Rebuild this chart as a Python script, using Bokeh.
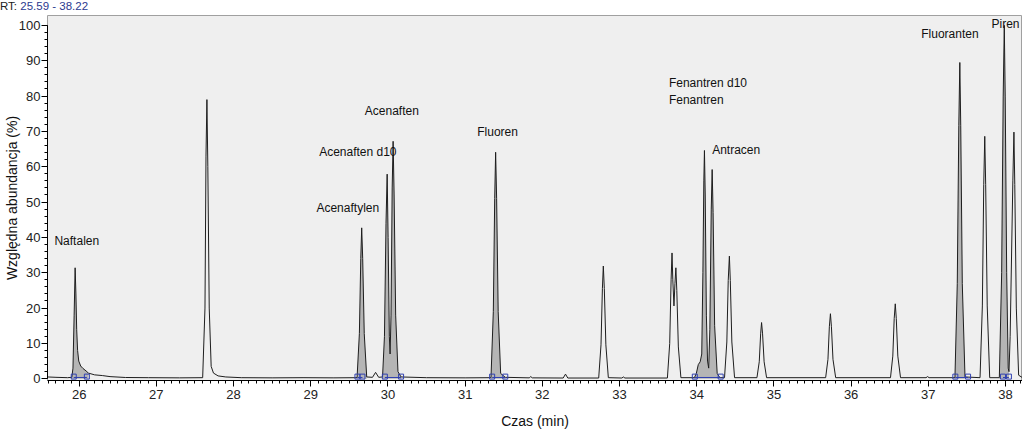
import numpy as np
from bokeh.plotting import figure
from bokeh.models import Range1d, SingleIntervalTicker, ColumnDataSource, Div
from bokeh.layouts import column
from bokeh.embed import file_html
from bokeh.resources import INLINE
from bokeh.core.properties import value

# ---------------- data ----------------
trace_time = [
    25.59, 25.70, 25.85, 25.905, 25.92, 25.935, 25.948, 25.958, 25.968, 25.98, 25.995,
    26.02, 26.05, 26.09, 26.12, 26.2, 26.3, 26.4, 26.6, 26.9, 27.3, 27.6,
    27.63, 27.643, 27.655, 27.667, 27.685, 27.71, 27.74, 27.80, 27.9, 28.1, 28.5, 28.9, 29.3, 29.6,
    29.63, 29.648, 29.66, 29.673, 29.693, 29.725, 29.80, 29.84, 29.88, 29.93,
    29.955, 29.975, 29.99, 30.002, 30.018, 30.028, 30.04, 30.055, 30.067, 30.08, 30.10, 30.13, 30.17,
    30.5, 31.0, 31.335,
    31.365, 31.383, 31.395, 31.408, 31.428, 31.46, 31.52, 31.83, 31.85, 31.87, 32.27, 32.30, 32.33, 32.73,
    32.76, 32.778, 32.79, 32.803, 32.823, 32.855, 33.03, 33.05, 33.07, 33.62,
    33.65, 33.668, 33.68, 33.69, 33.705, 33.718, 33.73, 33.742, 33.762, 33.795, 33.97,
    33.995, 34.02, 34.045, 34.065, 34.08, 34.092, 34.10, 34.11, 34.125, 34.14, 34.155, 34.17, 34.188,
    34.2, 34.212, 34.232, 34.265, 34.3, 34.36,
    34.39, 34.408, 34.423, 34.435, 34.455, 34.49, 34.78,
    34.81, 34.828, 34.84, 34.853, 34.873, 34.905, 35.67,
    35.70, 35.718, 35.732, 35.745, 35.765, 35.8, 36.51,
    36.54, 36.558, 36.572, 36.585, 36.605, 36.64, 36.97, 36.99, 37.01, 37.345,
    37.375, 37.395, 37.408, 37.42, 37.44, 37.475, 37.67,
    37.70, 37.718, 37.731, 37.743, 37.763, 37.795, 37.92,
    37.95, 37.97, 37.984, 37.996, 38.015, 38.035, 38.045, 38.06, 38.095, 38.109, 38.12, 38.14, 38.17, 38.22,
]
trace_abund = [
    0.5, 0.4, 0.3, 0.4, 3.0, 18, 31.4, 24, 14, 8, 5,
    3.6, 2.9, 2.2, 1.6, 1.1, 0.9, 0.6, 0.35, 0.3, 0.25, 0.3,
    20, 63, 79, 60, 20, 3.5, 1.6, 0.8, 0.5, 0.3, 0.25, 0.3, 0.25, 0.3,
    12.8, 34, 42.7, 34, 12.8, 0.5, 0.4, 1.8, 0.4, 0.5,
    12, 44, 57.9, 40, 12, 7, 18, 54, 67.2, 52, 18, 2, 0.5,
    0.3, 0.25, 0.3,
    19, 51, 64.1, 51, 19, 1.5, 0.4, 0.25, 0.6, 0.25, 0.2, 1.3, 0.2, 0.2,
    9.6, 25.5, 31.9, 25.5, 9.6, 0.3, 0.2, 0.5, 0.2, 0.2,
    10, 28, 35.6, 28, 20.6, 27, 31.4, 25, 9, 0.3, 0.3,
    1.5, 4.0, 4.8, 7, 30, 56, 64.6, 52, 18, 5, 3, 14, 48,
    59.2, 47, 15, 1.5, 0.3, 0.3,
    10.4, 27.8, 34.7, 27.8, 10.4, 0.3, 0.3,
    4.8, 12.7, 15.9, 12.7, 4.8, 0.3, 0.3,
    5.5, 14.7, 18.4, 14.7, 5.5, 0.3, 0.3,
    6.4, 17, 21.2, 17, 6.4, 0.3, 0.3, 0.6, 0.3, 0.3,
    26.9, 71.6, 89.5, 71.6, 26.9, 0.5, 0.3,
    20.6, 54.9, 68.6, 54.9, 20.6, 0.3, 0.3,
    30, 80, 100, 80, 30, 3, 2, 12, 56, 69.8, 55, 20, 1, 0.3,
]

# integrated (identified) peak windows, minutes
fill_start = [25.905, 29.6, 29.93, 31.335, 33.97, 37.345, 37.92]
fill_end = [26.12, 29.725, 30.17, 31.52, 34.3, 37.475, 38.045]

# integration boundary markers, minutes
marker_start = [25.93, 29.605, 29.96, 31.35, 33.975, 37.35, 37.967]
marker_end = [26.10, 29.67, 30.17, 31.52, 34.31, 37.515, 38.044]

label_text = ["Naftalen", "Acenaftylen", "Acenaften d10", "Acenaften", "Fluoren",
              "Fenantren d10", "Fenantren", "Antracen", "Fluoranten", "Piren"]
label_time = [25.68, 29.48, 29.61, 30.05, 31.42, 33.64, 33.64, 34.20, 37.28, 38.00]
label_abund = [39.0, 48.3, 64.1, 75.7, 69.8, 83.7, 78.8, 64.6, 97.6, 100.4]
label_align = ["left", "center", "center", "center", "center", "left", "left", "left", "center", "center"]

rt_label = "RT:"
rt_text = "25.59 - 38.22"

# ---------------- figure ----------------
REG = "'Liberation Sans', Arial, sans-serif"

header = Div(text=f'<span style="color:#222">{rt_label}</span> '
                  f'<span style="color:#2b3990">{rt_text}</span>',
             width=1022, height=15, margin=(0, 0, 0, 0),
             styles={"font-family": "Liberation Sans, Arial, sans-serif", "font-size": "11.5px",
                     "line-height": "12px", "white-space": "nowrap"})

p = figure(width=1022, height=419, output_backend="svg", toolbar_location=None,
           x_range=Range1d(25.59, 38.22), y_range=Range1d(-0.5, 102.8),
           min_border_left=44, min_border_right=0, min_border_top=0, min_border_bottom=54)
p.background_fill_color = "#efefef"
p.border_fill_color = "white"
p.outline_line_color = "#a0a0a0"
p.grid.visible = False

t = np.array(trace_time)
a = np.array(trace_abund)

# filled identified peaks
for s, e in zip(fill_start, fill_end):
    m = (t >= s - 1e-9) & (t <= e + 1e-9)
    p.varea(x=t[m], y1=np.zeros(m.sum()), y2=a[m], fill_color="#b5b5b5")

# trace
p.line(t, a, line_color="#1e1e1e", line_width=1)

# integration baselines + markers
p.segment(x0=marker_start, y0=[0.35] * len(marker_start), x1=marker_end, y1=[0.35] * len(marker_end),
          line_color="#3040b0", line_width=1)
p.scatter(marker_start + marker_end, [0.6] * (2 * len(marker_start)), marker="square", size=5,
          fill_alpha=0, line_color="#3040b0", line_width=1)

# peak names
src = ColumnDataSource(dict(x=label_time, y=label_abund, text=label_text, align=label_align))
p.text(x="x", y="y", text="text", text_align="align", text_baseline="middle", source=src,
       text_font=value(REG), text_font_size="12px", text_color="#111111")

# axes
p.xaxis.ticker = SingleIntervalTicker(interval=1, num_minor_ticks=10)
p.yaxis.ticker = SingleIntervalTicker(interval=10, num_minor_ticks=5)
p.yaxis.bounds = (0, 100)
for ax in (p.xaxis[0], p.yaxis[0]):
    ax.axis_line_color = "black"
    ax.major_tick_line_color = "black"
    ax.minor_tick_line_color = "black"
    ax.major_tick_in = 0
    ax.major_tick_out = 6
    ax.minor_tick_in = 0
    ax.minor_tick_out = 3
    ax.major_label_text_font = REG
    ax.major_label_text_font_size = "13px"
    ax.major_label_text_color = "#222222"
    ax.axis_label_text_font = REG
    ax.axis_label_text_font_size = "14px"
    ax.axis_label_text_font_style = "normal"
    ax.axis_label_text_color = "#111111"
p.xaxis.axis_label = "Czas (min)"
p.yaxis.axis_label = "Względna abundancja (%)"
p.xaxis.major_label_standoff = 3
p.xaxis.axis_label_standoff = 11
p.yaxis.major_label_standoff = 1
p.yaxis.axis_label_standoff = -4

layout = column(header, p, spacing=0)
open("out.html", "w").write(file_html(layout, INLINE))
